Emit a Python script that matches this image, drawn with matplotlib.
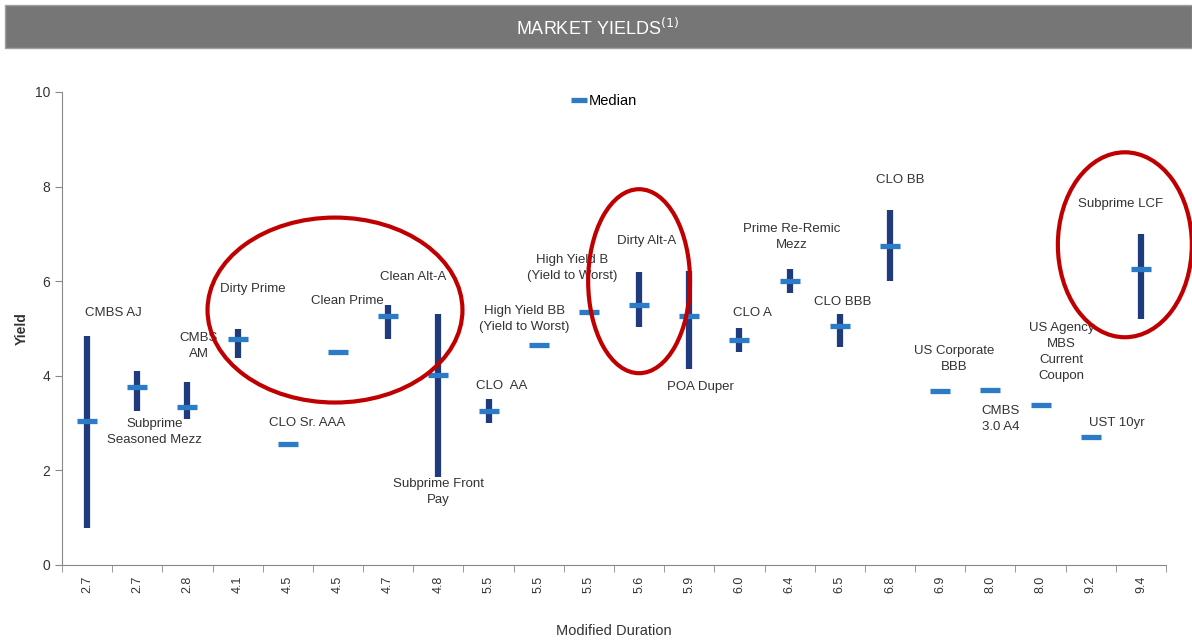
import numpy as np
import matplotlib
matplotlib.use("Agg")
import matplotlib.pyplot as plt
from matplotlib.patches import Ellipse, Rectangle

plt.rcParams['font.family'] = ['Liberation Sans', 'DejaVu Sans']

# ---- data ----
durations = ["2.7", "2.7", "2.8", "4.1", "4.5", "4.5", "4.7", "4.8", "5.5", "5.5", "5.5",
             "5.6", "5.9", "6.0", "6.4", "6.5", "6.8", "6.9", "8.0", "8.0", "9.2", "9.4"]
names = ["CMBS AJ", "Subprime\nSeasoned Mezz", "CMBS\nAM", "Dirty Prime", "CLO Sr. AAA",
         "Clean Prime", "Clean Alt-A", "Subprime Front\nPay", "CLO  AA",
         "High Yield BB\n(Yield to Worst)", "High Yield B\n(Yield to Worst)", "Dirty Alt-A",
         "POA Duper", "CLO A", "Prime Re-Remic\nMezz", "CLO BBB", "CLO BB",
         "US Corporate\nBBB", "CMBS\n3.0 A4", "US Agency\nMBS\nCurrent\nCoupon", "UST 10yr",
         "Subprime LCF"]
high = [4.84, 4.10, 3.87, 4.99, np.nan, 4.54, 5.50, 5.31, 3.51, np.nan, np.nan,
        6.20, 6.22, 5.01, 6.26, 5.31, 7.50, np.nan, np.nan, np.nan, np.nan, 7.00]
low = [0.78, 3.26, 3.09, 4.37, np.nan, 4.46, 4.78, 1.86, 3.00, np.nan, np.nan,
       5.03, 4.14, 4.50, 5.75, 4.61, 6.00, np.nan, np.nan, np.nan, np.nan, 5.20]
median = [3.04, 3.76, 3.34, 4.78, 2.56, 4.50, 5.26, 4.02, 3.26, 4.65, 5.35,
          5.50, 5.26, 4.76, 6.00, 5.05, 6.74, 3.68, 3.70, 3.38, 2.71, 6.26]

# label placement (layout, in data coords: x index, y value)
label_x = [0.52, 1.35, 2.23, 3.31, 4.38, 5.18, 6.49, 7.0, 8.27, 8.71, 9.66,
           11.16, 12.23, 13.25, 14.04, 15.06, 16.2, 17.27, 18.2, 19.42, 20.52, 20.6]
label_y = [5.33, 2.81, 4.63, 5.83, 3.0, 5.58, 6.09, 1.54, 3.78, 5.2, 6.28,
           6.85, 3.76, 5.33, 6.93, 5.56, 8.14, 4.36, 3.09, 4.5, 3.0, 7.63]

navy = "#1F3A7D"
blue = "#2B7BC6"
red = "#C00000"

fig = plt.figure(figsize=(11.92, 6.44), dpi=100)

# title bar
fig.patches.append(Rectangle((5/1192, 1 - 48/644), 1187/1192, 43/644, transform=fig.transFigure,
                             facecolor="#767676", edgecolor="#a0a0a0", lw=1, zorder=0))
fig.text(597/1192, 1 - 28/644, "MARKET YIELDS$^{(1)}$", color="white", fontsize=13,
         ha="center", va="center")

ax = fig.add_axes([62/1192, 1 - 565/644, (1166 - 62)/1192, (565 - 92)/644])
x = np.arange(len(durations))

ax.vlines(x, low, high, color=navy, lw=4.5, zorder=2)
ax.plot(x, median, linestyle="none", marker="_", markersize=15, mew=3.8, color=blue,
        zorder=3, label="Median")

for i, name in enumerate(names):
    ax.text(label_x[i], label_y[i], name, ha="center", va="center", fontsize=9.5,
            color="#333333", linespacing=1.45, zorder=4)

# red ellipses
for (cx, cy, w, h) in [(4.94, 5.39, 5.08, 3.91), (11.0, 6.0, 2.03, 3.89), (20.68, 6.77, 2.67, 3.91)]:
    ax.add_patch(Ellipse((cx, cy), w, h, fill=False, edgecolor=red, lw=3, clip_on=False, zorder=5))

ax.set_xlim(-0.5, len(durations) - 0.5)
ax.set_ylim(0, 10)
ax.set_yticks([0, 2, 4, 6, 8, 10])
ax.set_xticks(x)
ax.set_xticklabels(durations, rotation=90, fontsize=9)
ax.set_xticks(np.arange(-0.5, len(durations)), minor=True)
ax.tick_params(axis="x", which="major", length=0, pad=8, colors="#333333")
ax.tick_params(axis="x", which="minor", length=5, color="#888888")
ax.tick_params(axis="y", length=5, color="#888888", labelsize=10, labelcolor="#333333")

for s in ["top", "right"]:
    ax.spines[s].set_visible(False)
for s in ["left", "bottom"]:
    ax.spines[s].set_color("#888888")

ax.set_ylabel("Yield", fontsize=10, fontweight="bold", color="#333333", labelpad=4)
ax.set_xlabel("Modified Duration", fontsize=10.5, color="#333333", labelpad=22)

ax.legend(loc="center", bbox_to_anchor=(0.492, 0.98), frameon=False, fontsize=10.5,
          handlelength=0.7, handletextpad=0.3, markerscale=0.75)

fig.savefig("out.png", dpi=100)
